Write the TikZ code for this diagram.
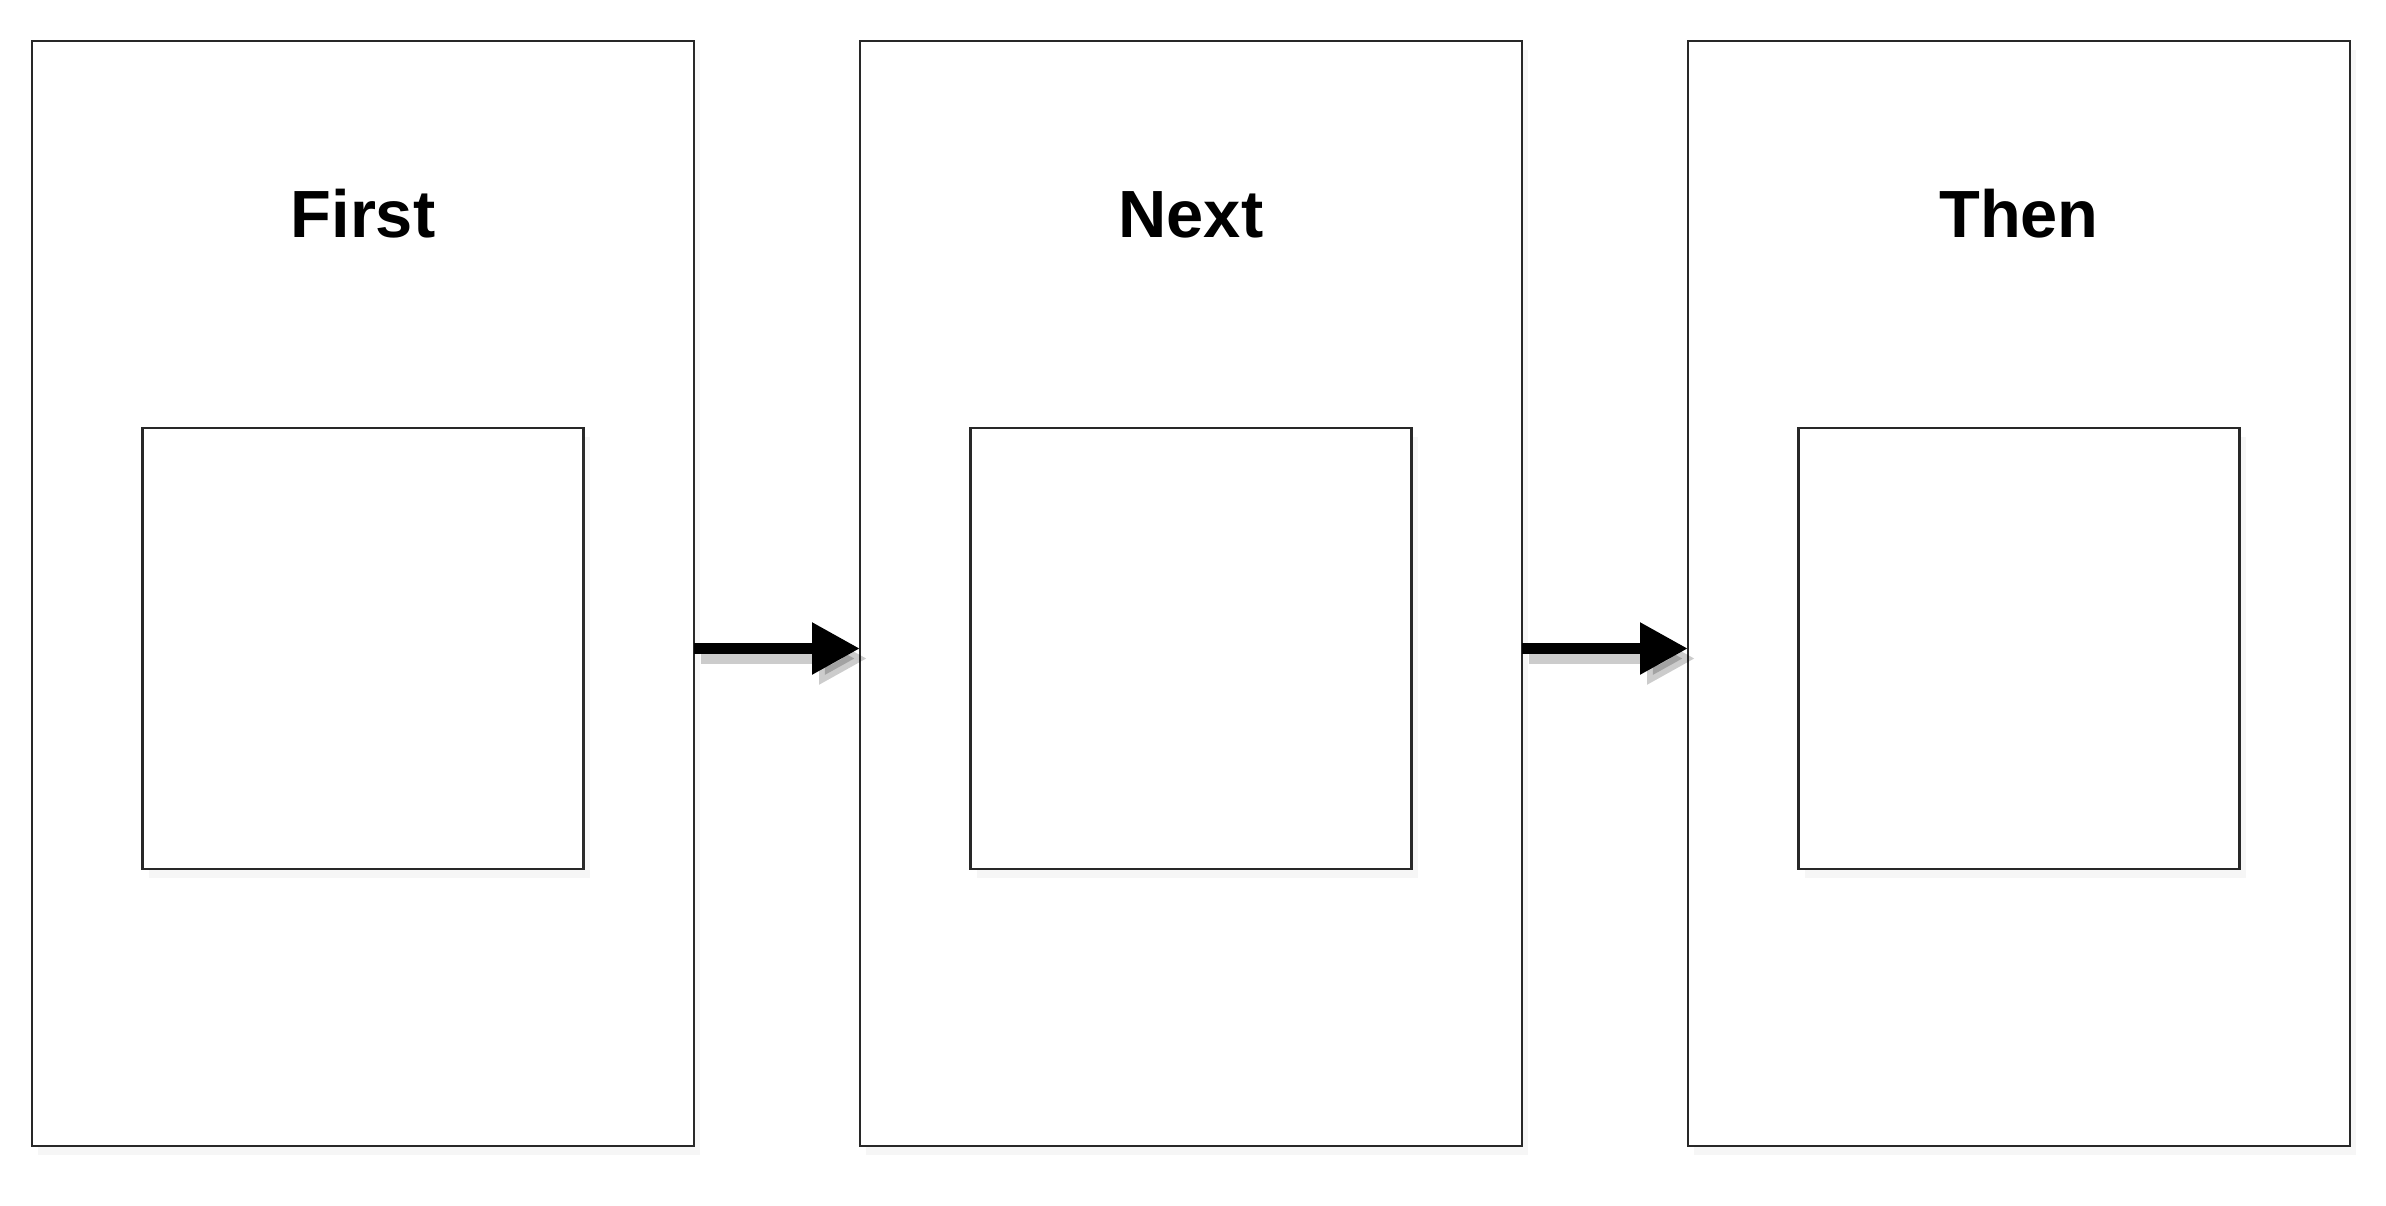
\documentclass[tikz,border=0pt]{standalone}
\usepackage{fontspec}
\setmainfont{Liberation Sans}
\usetikzlibrary{positioning,arrows.meta,shadows}

\begin{document}
\begin{tikzpicture}

\def\boxwidth{6.62}
\def\boxheight{11.05}
\def\innersize{4.41}
\def\gap{1.66}
\def\titlesize{19}
\definecolor{framegray}{RGB}{40,40,40}

\tikzset{
  stage/.style={draw=framegray, line width=0.6pt, fill=white, inner sep=0pt, outer sep=0pt,
    minimum width=\boxwidth cm, minimum height=\boxheight cm,
    drop shadow={opacity=0.07, shadow xshift=0.6mm, shadow yshift=-0.9mm}},
  picbox/.style={draw=framegray, line width=0.6pt, fill=white, inner sep=0pt, outer sep=0pt,
    minimum size=\innersize cm,
    drop shadow={opacity=0.07, shadow xshift=0.6mm, shadow yshift=-0.9mm}},
  stagetitle/.style={inner sep=0pt, anchor=base, font=\fontsize{\titlesize}{0}\selectfont\bfseries},
  flow/.style={line width=3.3pt, -{Triangle[length=4.8mm, width=4.9mm]}},
  flowshadow/.style={flow, black, opacity=0.2, transform canvas={shift={(0.7mm,-1mm)}}}
}

\useasboundingbox (0,0) rectangle (23.86,-12.06);

% Stufen
\node[stage] (first) at (3.63,-5.935) {};
\node[stage, right=\gap cm of first] (next) {};
\node[stage, right=\gap cm of next] (then) {};

% Bildfelder
\node[picbox, below=3.87cm of first.north] (firstpic) {};
\node[picbox, below=3.87cm of next.north] (nextpic) {};
\node[picbox, below=3.87cm of then.north] (thenpic) {};

% Ueberschriften
\node[stagetitle] (firsttitle) at ([yshift=-1.96cm]first.north) {First};
\node[stagetitle] (nexttitle) at ([yshift=-1.96cm]next.north) {Next};
\node[stagetitle] (thentitle) at ([yshift=-1.96cm]then.north) {Then};

% Pfeile
\draw[flowshadow] (firstpic.center -| first.east) -- (firstpic.center -| next.west);
\draw[flowshadow] (nextpic.center -| next.east) -- (nextpic.center -| then.west);
\draw[flow] (firstpic.center -| first.east) -- (firstpic.center -| next.west);
\draw[flow] (nextpic.center -| next.east) -- (nextpic.center -| then.west);

\end{tikzpicture}
\end{document}
